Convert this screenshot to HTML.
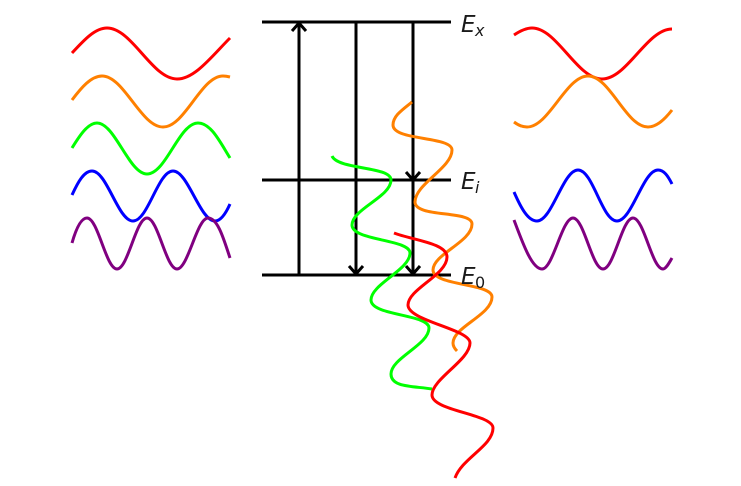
<!DOCTYPE html>
<html>
<head>
<meta charset="utf-8">
<style>
html,body{margin:0;padding:0;background:#fff;}
svg{display:block;}
text{font-family:"DejaVu Sans",sans-serif;fill:#1a1a1a;}
.it{font-style:oblique;}
</style>
</head>
<body>
<svg width="741" height="486" viewBox="0 0 741 486" xmlns="http://www.w3.org/2000/svg">
<g fill="none" stroke-width="3" stroke-linecap="butt">
  <!-- left waves -->
  <path stroke="#ff0000" d="M72 53 C84 40 95 28 107 28 C132 28 152 79 177 79 C195 79 212 56 230 38"/>
  <path stroke="#ff8000" d="M72 100 C81 88 91 76 102 76 C124 76 141 127 163 127 C185 127 201 76 223 76 C226 76 228 76.500 230 77"/>
  <path stroke="#00ff00" d="M72 148 C80 135 88 123 97 123 C115 123 129 174 147 174 C166 174 179 123 198 123 C211 123 220 142 230 158"/>
  <path stroke="#0000ff" d="M72 195 C78 182 84 171 92 171 C107 171 118 221 133 221 C148 221 158 171 173 171 C188 171 200 221 215 221 C221 221 226 213 230 204"/>
  <path stroke="#800080" d="M72 243 C76 229 81 218 87 218 C98 218 106 269 117 269 C128 269 136 218 147 218 C158 218 166 269 177 269 C188 269 197 218 208 218 C218 218 224 240 230 258"/>
  <!-- right waves -->
  <path stroke="#ff0000" d="M514 35 C520 31 526 28 532 28 C557 28 577 79 602 79 C627 79 647 29 672 29"/>
  <path stroke="#ff8000" d="M514 122 C518 125 522 127 527 127 C549 127 566 76 588 76 C610 76 626 127 648 127 C657 127 665 119 672 110"/>
  <path stroke="#0000ff" d="M514 192 C521 208 528 221 537 221 C552 221 563 170 578 170 C593 170 602 221 617 221 C632 221 643 170 658 170 C664 170 668 176 672 184"/>
  <path stroke="#800080" d="M514 220 C523 244 532 269 542 269 C553 269 562 218 573 218 C584 218 592 269 603 269 C614 269 622 218 633 218 C644 218 652 269 663 269 C666 269 669 263 672 258"/>
  <!-- levels and arrows -->
  <g stroke="#000" stroke-width="3">
    <path d="M262 22 H451 M262 180 H451 M262 275 H451"/>
    <path d="M299 275 V23 M292 31 L299 23 L306 31"/>
    <path d="M356 22 V274 M349 266 L356 274 L363 266"/>
    <path d="M413 22 V274 M406 172 L413 180 L420 172 M406 266 L413 274 L420 266"/>
  </g>
  <!-- sheared waves -->
  <path stroke="#ff8000" d="M412 102 C402 110 393 116 393 125 C393 141 452 136 452 150 C452 168 415 184 415 202 C415 218 472 210 472 224 C472 242 433 254 433 270 C433 286 492 283 492 297 C492 315 453 327 453 343 C453 346 455 349 457 351"/>
  <path stroke="#00ff00" d="M332 156 C338 170 391 166 391 180 C391 197 352 209 352 225 C352 241 410 239 410 253 C410 270 371 284 371 300 C371 316 429 314 429 328 C429 345 391 358 391 374 C391 388 415 386 432 389"/>
  <path stroke="#ff0000" d="M394 233 C412 240 447 243 447 257 C447 275 408 289 408 305 C408 321 470 329 470 343 C470 360 432 379 432 395 C432 411 493 414 493 428 C493 446 462 458 455 478"/>
</g>
<text class="it" x="461" y="32" font-size="23">E</text>
<text class="it" x="475" y="36" font-size="16">x</text>
<text class="it" x="461" y="189" font-size="23">E</text>
<text class="it" x="475" y="193" font-size="16">i</text>
<text class="it" x="461" y="284" font-size="23">E</text>
<text x="475" y="288" font-size="16">0</text>
</svg>
</body>
</html>
